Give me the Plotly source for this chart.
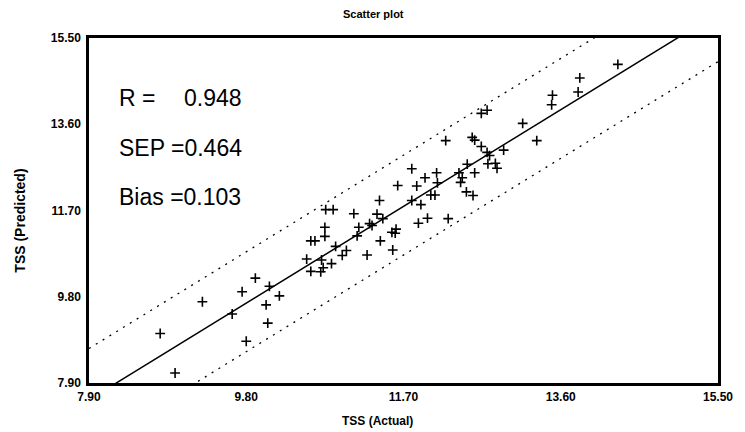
import plotly.graph_objects as go
import numpy as np

# ---- data ----
tss_actual = [8.76, 8.94, 9.27, 9.63, 9.75, 9.91, 9.80, 10.06, 10.04, 10.08,
              10.20, 10.53, 10.58, 10.63, 10.58, 10.70, 10.73, 10.83, 10.71, 10.75,
              10.75, 10.76, 10.85, 10.88, 10.96, 11.01, 11.10, 11.14, 11.16, 11.26,
              11.29, 11.32, 11.38, 11.41, 11.45, 11.42, 11.57, 11.56, 11.61, 11.60,
              11.63, 11.80, 11.80, 11.86, 11.91, 11.96, 11.99, 11.88, 12.03, 12.08,
              12.10, 12.11, 12.21, 12.24, 12.37, 12.41, 12.39, 12.46, 12.54, 12.47,
              12.56, 12.53, 12.56, 12.64, 12.71, 12.74, 12.72, 12.81, 12.83, 12.91,
              12.64, 12.71, 13.14, 13.31, 13.50, 13.49, 13.81, 13.83, 14.29]
tss_predicted = [8.99, 8.12, 9.69, 9.42, 9.91, 10.21, 8.82, 9.22, 9.62, 10.03,
                 9.82, 10.63, 11.03, 11.03, 10.36, 10.35, 10.44, 10.53, 10.61, 11.13,
                 11.33, 11.72, 11.72, 10.91, 10.71, 10.82, 11.63, 11.14, 11.33, 10.72,
                 11.41, 11.37, 11.62, 11.92, 11.52, 11.03, 10.83, 11.22, 11.29, 11.20,
                 12.25, 12.62, 11.92, 12.24, 11.83, 12.42, 11.53, 11.42, 12.04, 12.04,
                 12.53, 12.31, 13.24, 11.52, 12.53, 12.42, 12.32, 12.11, 12.03, 12.72,
                 12.53, 13.31, 13.25, 13.11, 12.98, 12.91, 12.73, 12.74, 12.63, 13.03,
                 13.84, 13.91, 13.62, 13.24, 14.24, 14.03, 14.31, 14.62, 14.92]

fit_slope = 1.121
fit_intercept = -1.326
band_offsets = [1.13, -1.07]

axis_range = [7.90, 15.50]
tick_values = [7.90, 9.80, 11.70, 13.60, 15.50]
tick_labels = ["7.90", "9.80", "11.70", "13.60", "15.50"]

stats_labels = ["R =", "SEP =0.464", "Bias =0.103"]
r_value = "0.948"

# ---- figure ----
fig = go.Figure()

line_x = np.array(axis_range)
fig.add_trace(go.Scatter(
    x=line_x, y=fit_intercept + fit_slope * line_x, mode="lines",
    line=dict(color="black", width=1.5), showlegend=False, hoverinfo="skip"))
for off in band_offsets:
    fig.add_trace(go.Scatter(
        x=line_x, y=fit_intercept + off + fit_slope * line_x, mode="lines",
        line=dict(color="black", width=1.3, dash="2px,6px"),
        showlegend=False, hoverinfo="skip"))

fig.add_trace(go.Scatter(
    x=tss_actual, y=tss_predicted, mode="markers",
    marker=dict(symbol="cross-thin", size=7, color="black",
                line=dict(width=1.6, color="black")),
    showlegend=False))

tick_font = dict(family="Liberation Sans, Arial, sans-serif", size=12, color="black")
bold_ticks = ["<b>%s</b>" % t for t in tick_labels]
axis_common = dict(range=axis_range, tickvals=tick_values, ticktext=bold_ticks,
                   showgrid=False, zeroline=False, showline=True, mirror=True,
                   linecolor="black", linewidth=2.5, ticks="", tickfont=tick_font)

fig.update_xaxes(**axis_common, ticklabelstandoff=1)
fig.update_yaxes(**axis_common, ticklabelstandoff=3)

stat_font = dict(family="Liberation Sans, Arial, sans-serif", size=23, color="black")
ypos = [0.826, 0.681, 0.539]
for lab, yp in zip(stats_labels, ypos):
    fig.add_annotation(x=0.044, y=yp, xref="paper", yref="paper", text=lab,
                       showarrow=False, xanchor="left", yanchor="middle", font=stat_font)
fig.add_annotation(x=0.148, y=ypos[0], xref="paper", yref="paper", text=r_value,
                   showarrow=False, xanchor="left", yanchor="middle", font=stat_font)

fig.add_annotation(x=(376 - 89) / 635, y=1 + (38 - 14) / 345, xref="paper", yref="paper",
                   text="<b>Scatter plot</b>", showarrow=False,
                   xanchor="center", yanchor="middle",
                   font=dict(family="Liberation Sans, Arial, sans-serif", size=11, color="black"))
fig.add_annotation(x=0.459, y=-0.11, xref="paper", yref="paper", text="<b>TSS (Actual)</b>",
                   showarrow=False, xanchor="center", yanchor="middle",
                   font=dict(family="Liberation Sans, Arial, sans-serif", size=12, color="black"))
fig.add_annotation(x=-0.11, y=0.47, xref="paper", yref="paper", text="<b>TSS (Predicted)</b>",
                   showarrow=False, textangle=-90, xanchor="center", yanchor="middle",
                   font=dict(family="Liberation Sans, Arial, sans-serif", size=14, color="black"))

fig.update_layout(width=745, height=432, margin=dict(l=89, r=21, t=38, b=49),
                  plot_bgcolor="white", paper_bgcolor="white")

fig.write_html("out.html")
